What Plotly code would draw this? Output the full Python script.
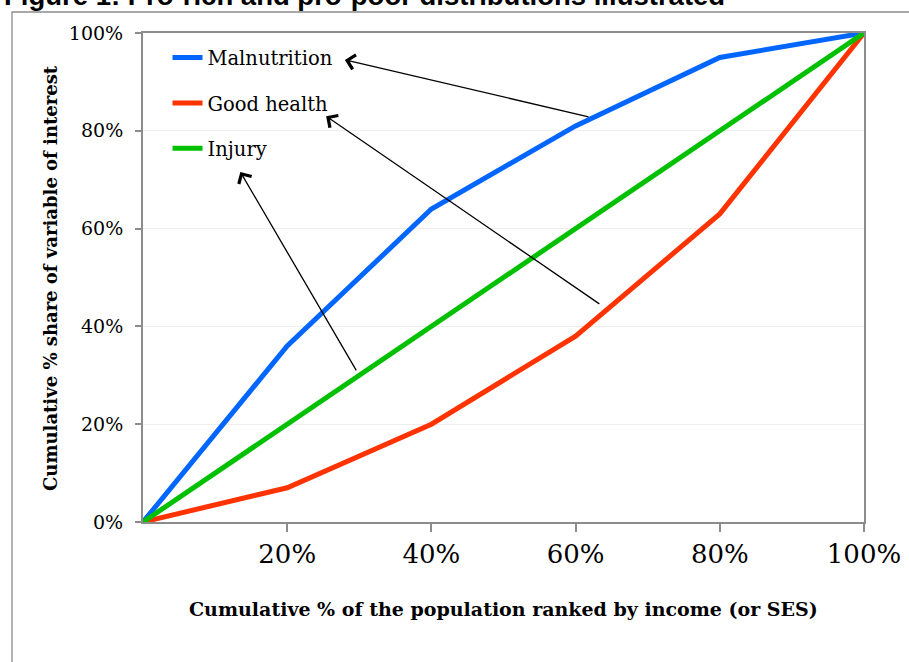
import plotly.graph_objects as go

population = [0, 20, 40, 60, 80, 100]
malnutrition = [0, 36, 64, 81, 95, 100]
good_health = [0, 7, 20, 38, 63, 100]
injury = [0, 20, 40, 60, 80, 100]

x_tickvals = [20, 40, 60, 80, 100]
x_ticktext = ["20%", "40%", "60%", "80%", "100%"]
y_tickvals = [0, 20, 40, 60, 80, 100]
y_ticktext = ["0%", "20%", "40%", "60%", "80%", "100%"]

# arrows: (tail_x, tail_y, head_x, head_y) in data units
arrows = [
    (62.0, 82.8, 28.0, 94.5),
    (63.5, 44.4, 25.4, 83.0),
    (29.7, 30.7, 13.5, 71.6),
]

SERIF = "DejaVu Serif"
L, R, T, B = 143, 864, 33, 522
PW, PH = R - L, B - T


def px_x(p):
    return (p - L) / PW


def px_y(p):
    return (B - p) / PH


fig = go.Figure()
series = [
    ("Malnutrition", malnutrition, "#0066ff"),
    ("Good health", good_health, "#ff3300"),
    ("Injury", injury, "#00c000"),
]
for name, vals, col in series:
    fig.add_trace(go.Scatter(
        x=population, y=vals, mode="lines", name=name, legendgroup=name,
        line=dict(color=col, width=5),
    ))

annotations = []
for tx, ty, hx, hy in arrows:
    annotations.append(dict(
        x=hx, y=hy, ax=tx, ay=ty, xref="x", yref="y", axref="x", ayref="y",
        showarrow=True, arrowhead=4, arrowsize=2.2, arrowwidth=1.3,
        arrowcolor="black", text="", standoff=0,
    ))
annotations.append(dict(
    text="<b>Figure 1: Pro-rich and pro-poor distributions illustrated</b>",
    xref="paper", yref="paper", x=px_x(2), y=px_y(13),
    xanchor="left", yanchor="bottom", showarrow=False,
    font=dict(family="Liberation Sans", size=27.5, color="black"),
))
annotations.append(dict(
    text="<b>Cumulative % of the population ranked by income (or SES)</b>",
    xref="paper", yref="paper", x=0.5, y=px_y(609),
    xanchor="center", yanchor="middle", showarrow=False,
    font=dict(family=SERIF, size=19, color="black"),
))
annotations.append(dict(
    text="<b>Cumulative % share of variable of interest</b>",
    xref="paper", yref="paper", x=px_x(50), y=px_y(278),
    xanchor="center", yanchor="middle", showarrow=False, textangle=-90,
    font=dict(family=SERIF, size=18, color="black"),
))

shapes = [dict(
    type="rect", xref="paper", yref="paper",
    x0=px_x(12), x1=px_x(930),
    y0=px_y(12), y1=px_y(680),
    line=dict(color="#8c8c8c", width=1.3), fillcolor="rgba(0,0,0,0)",
    layer="below",
)]

fig.update_layout(
    width=909, height=662,
    margin=dict(l=L, r=909 - R, t=T, b=662 - B, autoexpand=False),
    paper_bgcolor="white", plot_bgcolor="white",
    showlegend=True,
    legend=dict(
        x=0.034, y=0.989, xanchor="left", yanchor="top",
        font=dict(family=SERIF, size=19.5, color="black"),
        bgcolor="rgba(0,0,0,0)", traceorder="grouped", tracegroupgap=17,
    ),
    xaxis=dict(
        range=[0, 100], tickvals=x_tickvals, ticktext=x_ticktext,
        showgrid=False, zeroline=False, automargin=False,
        showline=True, linecolor="#8c8c8c", linewidth=2, mirror=True,
        ticks="outside", ticklen=8, tickcolor="#8c8c8c", tickwidth=1.5,
        tickfont=dict(family=SERIF, size=26, color="black"),
    ),
    yaxis=dict(
        range=[0, 100], tickvals=y_tickvals, ticktext=y_ticktext,
        showgrid=True, gridcolor="#eeeeee", gridwidth=1, zeroline=False,
        automargin=False,
        showline=True, linecolor="#8c8c8c", linewidth=2, mirror=True,
        ticks="outside", ticklen=6, tickcolor="#8c8c8c", tickwidth=1.5,
        ticklabelstandoff=8,
        tickfont=dict(family=SERIF, size=19, color="black"),
    ),
    annotations=annotations,
    shapes=shapes,
)

fig.write_html("out.html", config={"displayModeBar": False},
               post_script="document.body.style.margin='0';")
